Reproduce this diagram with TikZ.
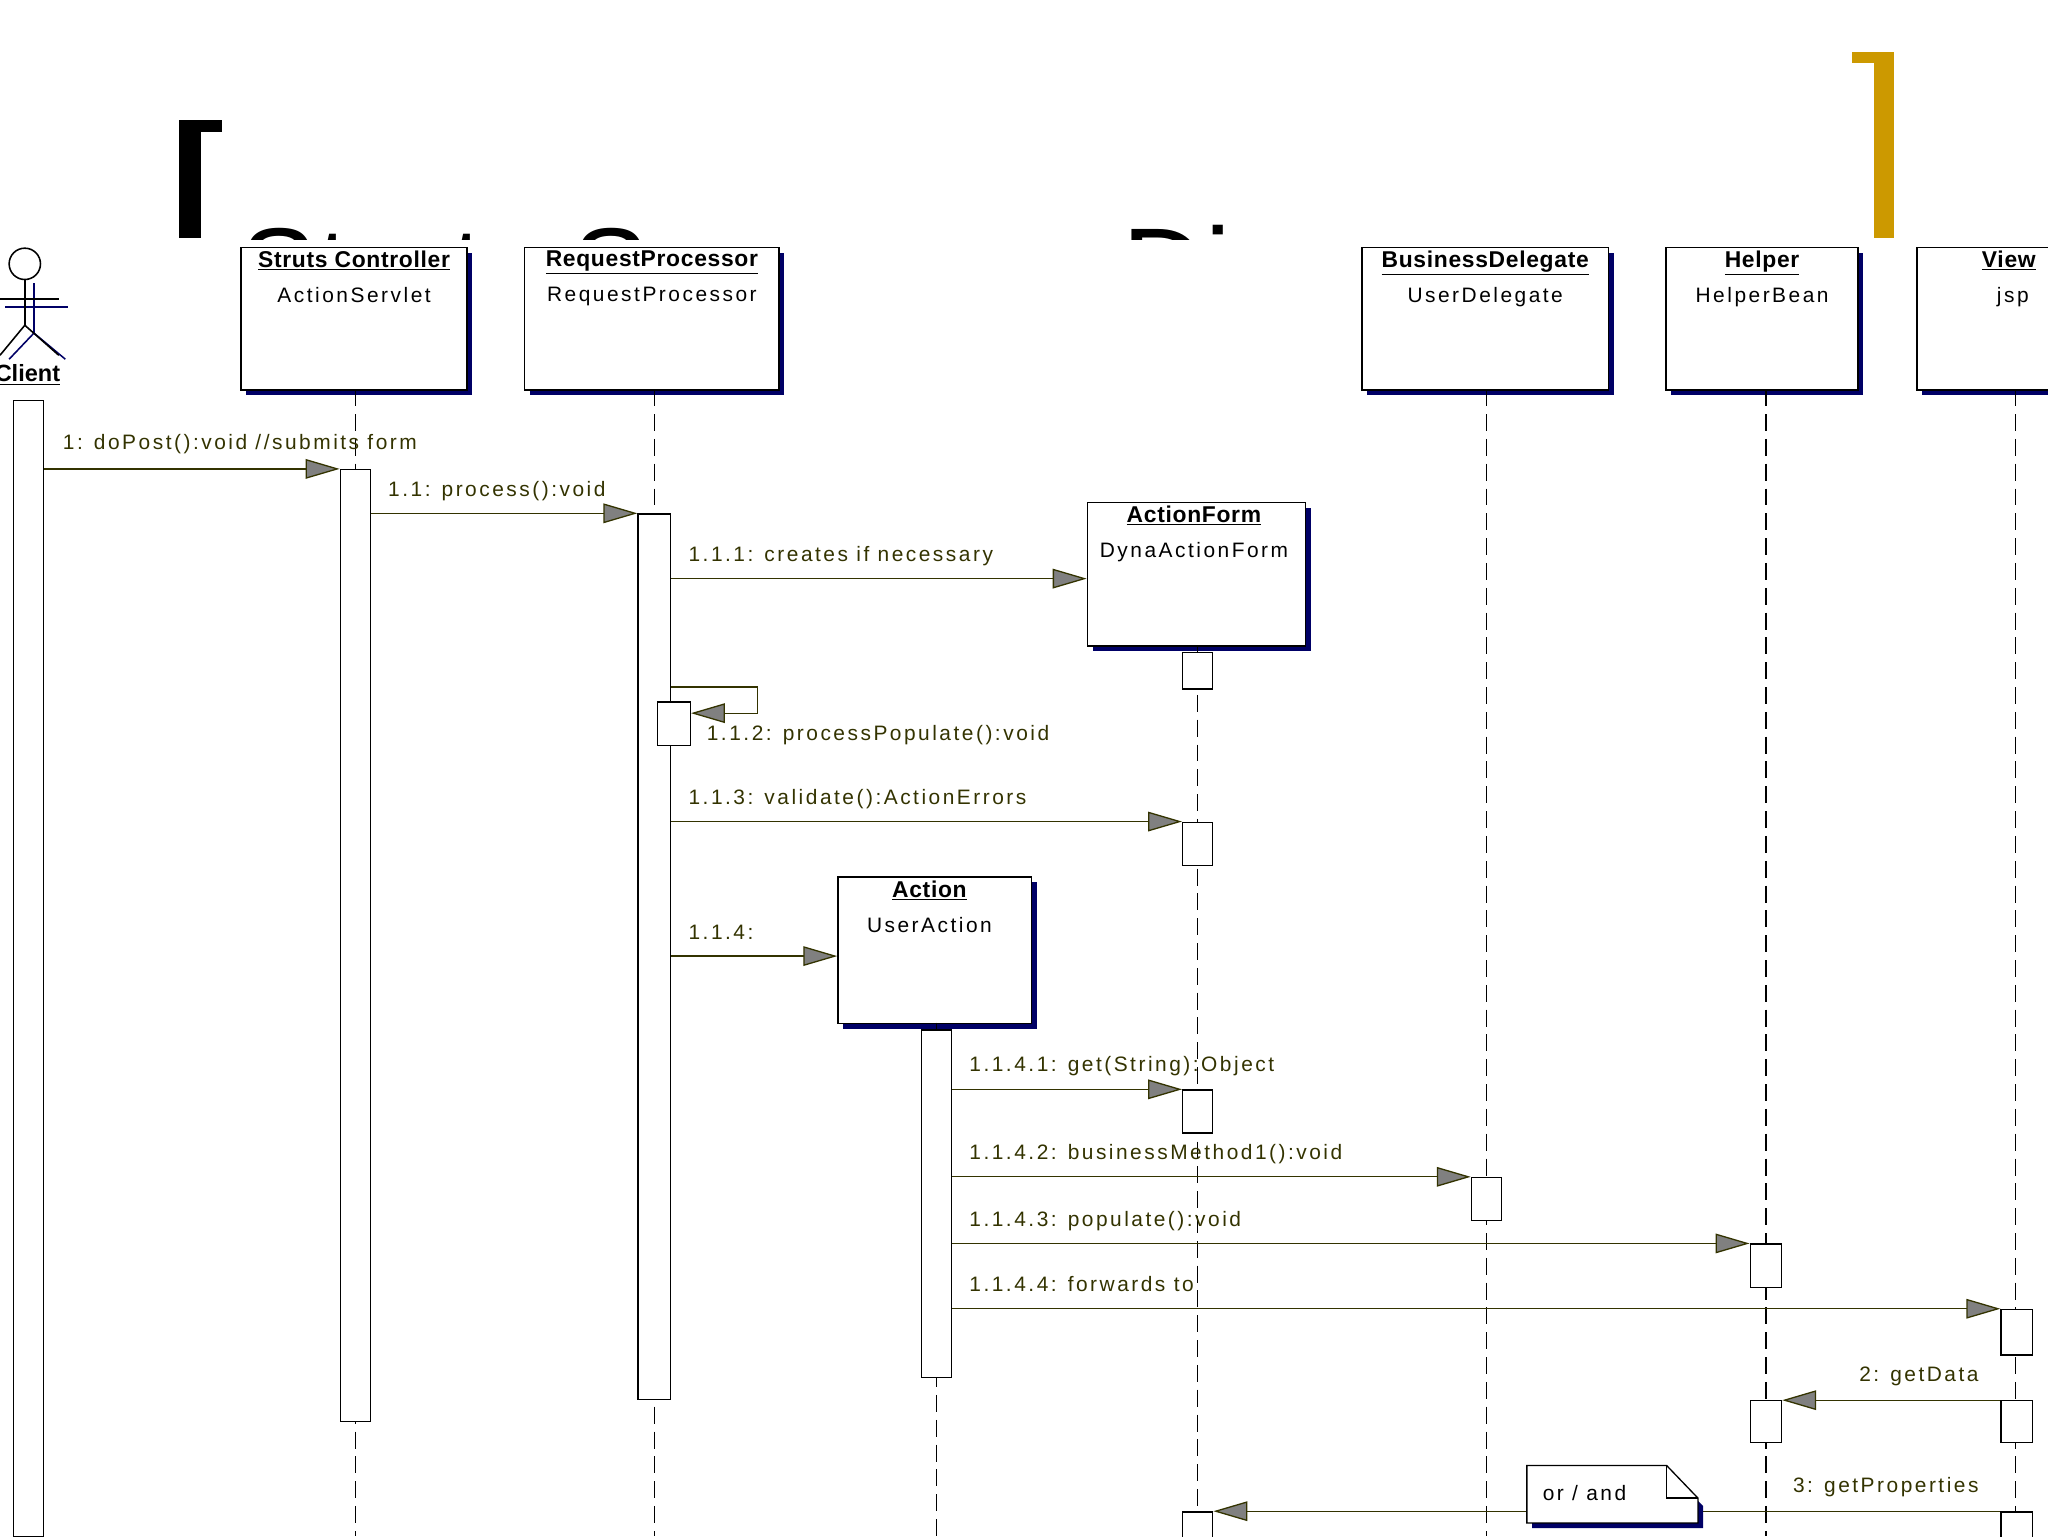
\documentclass[tikz,border=0pt]{standalone}
\usepackage{fontspec}
\setmainfont{Liberation Sans}
\usetikzlibrary{arrows.meta,shadows,shapes.misc,calc}
\definecolor{olive}{HTML}{333300}
\definecolor{shadowblue}{HTML}{000066}
\definecolor{gold}{HTML}{CC9900}
\definecolor{tipgray}{HTML}{808080}
\newfontfamily\lblfont[LetterSpace=12]{Liberation Sans}
\newfontfamily\hdfont[LetterSpace=3]{Liberation Sans}
\begin{document}
\begin{tikzpicture}[x=1pt,y=-1pt,
  box/.style={draw=black,line width=1.2pt,fill=white,rectangle,inner sep=0,anchor=north west,
     general shadow={fill=shadowblue,shadow xshift=4pt,shadow yshift=-4pt}},
  hd/.style={font=\hdfont\fontsize{17.5}{17.5}\selectfont\bfseries,anchor=north,inner sep=0},
  nm/.style={font=\lblfont\fontsize{16}{16}\selectfont,anchor=north,inner sep=0},
  act/.style={draw=black,line width=1pt,fill=white,rectangle,inner sep=0,minimum width=23pt,anchor=north},
  life/.style={line width=1pt,dash pattern=on 13pt off 6pt},
  msg/.style={draw=olive,line width=1pt,-{Triangle[length=26pt,width=15pt,fill=tipgray]}},
  lbl/.style={font=\lblfont\fontsize{16}{16}\selectfont,text=olive,anchor=base west,inner sep=0}]
\useasboundingbox (0,0) rectangle (1568,1176);
\fill[white] (0,0) rectangle (1568,1176);
% title
\begin{scope}
\clip (0,0) rectangle (1568,183);
\node[anchor=base west,inner sep=0,font=\fontsize{88}{88}\selectfont] (title) at (184,236) {Struts Sequence Diagram};
\end{scope}
\fill[black] (137,92) rectangle (154,182);
\fill[black] (137,92) rectangle (170,101);
\fill[gold] (1435,40) rectangle (1450,182);
\fill[gold] (1418,40) rectangle (1450,48);
% boxes
\node[box,minimum width=173pt,minimum height=109pt] (sc) at (184,189) {};
\node[hd] at ($(sc.north)+(0,3)$) {\underline{Struts Controller}};
\node[nm] at ($(sc.north)+(0,31)$) {ActionServlet};
\node[box,minimum width=195pt,minimum height=109pt] (rp) at (401,189) {};
\node[hd] at ($(rp.north)+(0,3)$) {\underline{RequestProcessor}};
\node[nm] at ($(rp.north)+(0,31)$) {RequestProcessor};
\node[box,minimum width=189pt,minimum height=109pt] (bd) at (1042,189) {};
\node[hd] at ($(bd.north)+(0,3)$) {\underline{BusinessDelegate}};
\node[nm] at ($(bd.north)+(0,31)$) {UserDelegate};
\node[box,minimum width=147pt,minimum height=109pt] (hp) at (1275,189) {};
\node[hd] at ($(hp.north)+(0,3)$) {\underline{Helper}};
\node[nm] at ($(hp.north)+(0,31)$) {HelperBean};
\node[box,minimum width=150pt,minimum height=109pt] (vw) at (1467,189) {};
\node[hd] at (1538,192) {\underline{View}};
\node[nm] at (1541,220) {jsp};
\node[box,minimum width=167pt,minimum height=110pt] (af) at (832,384) {};
\node[hd] at ($(af.north)+(-2,3)$) {\underline{ActionForm}};
\node[nm] at ($(af.north)+(-2,31)$) {DynaActionForm};
\node[box,minimum width=148pt,minimum height=112pt] (ac) at (641,671) {};
\node[hd] at ($(ac.north)+(-4,3)$) {\underline{Action}};
\node[nm] at ($(ac.north)+(-4,31)$) {UserAction};
% lifelines
\draw[life] (272,298) -- (272,1176);
\draw[life] (501,298) -- (501,1176);
\draw[life] (1138,298) -- (1138,1176);
\draw[life] (1352,298) -- (1352,1176);
\draw[life] (1543,298) -- (1543,1176);
\draw[life] (917,494) -- (917,1176);
\draw[life] (717,783) -- (717,1176);
% actor
\begin{scope}[line width=1.2pt]
\begin{scope}[shadowblue,xshift=4pt,yshift=-3pt]
\draw (22,214) -- (22,252); \draw (0,232) -- (48,232);
\draw (22,252) -- (3,272); \draw (22,252) -- (46,272);
\end{scope}
\draw[fill=white] (19,202) circle (12);
\draw (19,214) -- (19,249); \draw (0,229) -- (45,229);
\draw (19,249) -- (0,272); \draw (19,249) -- (45,272);
\end{scope}
\node[hd,font=\fontsize{18}{18}\selectfont\bfseries] (client) at (21,279) {\underline{Client}};
% activations
\node[act,minimum height=870pt] (aC) at (22,306) {};
\node[act,minimum height=729pt] (aS) at (272,359) {};
\node[act,minimum height=678pt,minimum width=25pt] (aR) at (501,393) {};
\node[act,minimum height=33pt,minimum width=25pt] (aR2) at (516,537) {};
\node[act,minimum height=28pt] (aF1) at (917,499) {};
\node[act,minimum height=33pt] (aF2) at (917,629) {};
\node[act,minimum height=33pt] (aF3) at (917,834) {};
\node[act,minimum height=30pt] (aF4) at (917,1157) {};
\node[act,minimum height=266pt] (aA) at (717,788) {};
\node[act,minimum height=33pt] (aB) at (1138,901) {};
\node[act,minimum height=33pt,minimum width=24pt] (aH1) at (1352,952) {};
\node[act,minimum height=32pt,minimum width=24pt] (aH2) at (1352,1072) {};
\node[act,minimum height=35pt,minimum width=24pt] (aV1) at (1544,1002) {};
\node[act,minimum height=32pt,minimum width=24pt] (aV2) at (1544,1072) {};
\node[act,minimum height=30pt,minimum width=24pt] (aV3) at (1544,1157) {};
% messages
\draw[msg] (aC.east |- aS.north) -- (aS.north west);
\node[lbl] at (48,344) {1: doPost():void //submits form};
\draw[msg] (aS.east |- aR.north) -- (aR.north west);
\node[lbl] at (297,380) {1.1: process():void};
\draw[msg] (aR.east |- 0,443) -- (af.west |- 0,443);
\node[lbl] at (527,430) {1.1.1: creates if necessary};
\draw[olive,line width=1pt] (aR.east |- 0,526) -- (580,526) -- (580,546);
\draw[msg] (580,546) -- (aR2.east |- 0,546);
\node[lbl] at (541,567) {1.1.2: processPopulate():void};
\draw[msg] (aR.east |- aF2.north) -- (aF2.north west);
\node[lbl] at (527,616) {1.1.3: validate():ActionErrors};
\draw[msg] (aR.east |- 0,732) -- (ac.west |- 0,732);
\node[lbl] at (527,719) {1.1.4:};
\draw[msg] (aA.east |- aF3.north) -- (aF3.north west);
\node[lbl] at (742,820) {1.1.4.1: get(String):Object};
\draw[msg] (aA.east |- aB.north) -- (aB.north west);
\node[lbl] at (742,888) {1.1.4.2: businessMethod1():void};
\draw[msg] (aA.east |- aH1.north) -- (aH1.north west);
\node[lbl] at (742,939) {1.1.4.3: populate():void};
\draw[msg] (aA.east |- aV1.north) -- (aV1.north west);
\node[lbl] at (742,989) {1.1.4.4: forwards to};
\draw[msg] (aV2.north west) -- (aH2.north east);
\node[lbl,anchor=base east] at (1515,1058) {2: getData};
\draw[msg] (aV3.north west) -- (aF4.north east);
\node[lbl,anchor=base east] at (1515,1143) {3: getProperties};
% note
\begin{scope}
\fill[shadowblue] (1173,1126) -- (1277,1126) -- (1304,1153) -- (1304,1170) -- (1173,1170) -- cycle;
\filldraw[fill=white,draw=black,line width=1pt] (1169,1122) -- (1276,1122) -- (1300,1147) -- (1300,1166) -- (1169,1166) -- cycle;
\draw[line width=1pt] (1276,1122) -- (1276,1147) -- (1300,1147);
\node[lbl,text=black] (note) at (1181,1149) {or / and};
\end{scope}
\end{tikzpicture}
\end{document}
